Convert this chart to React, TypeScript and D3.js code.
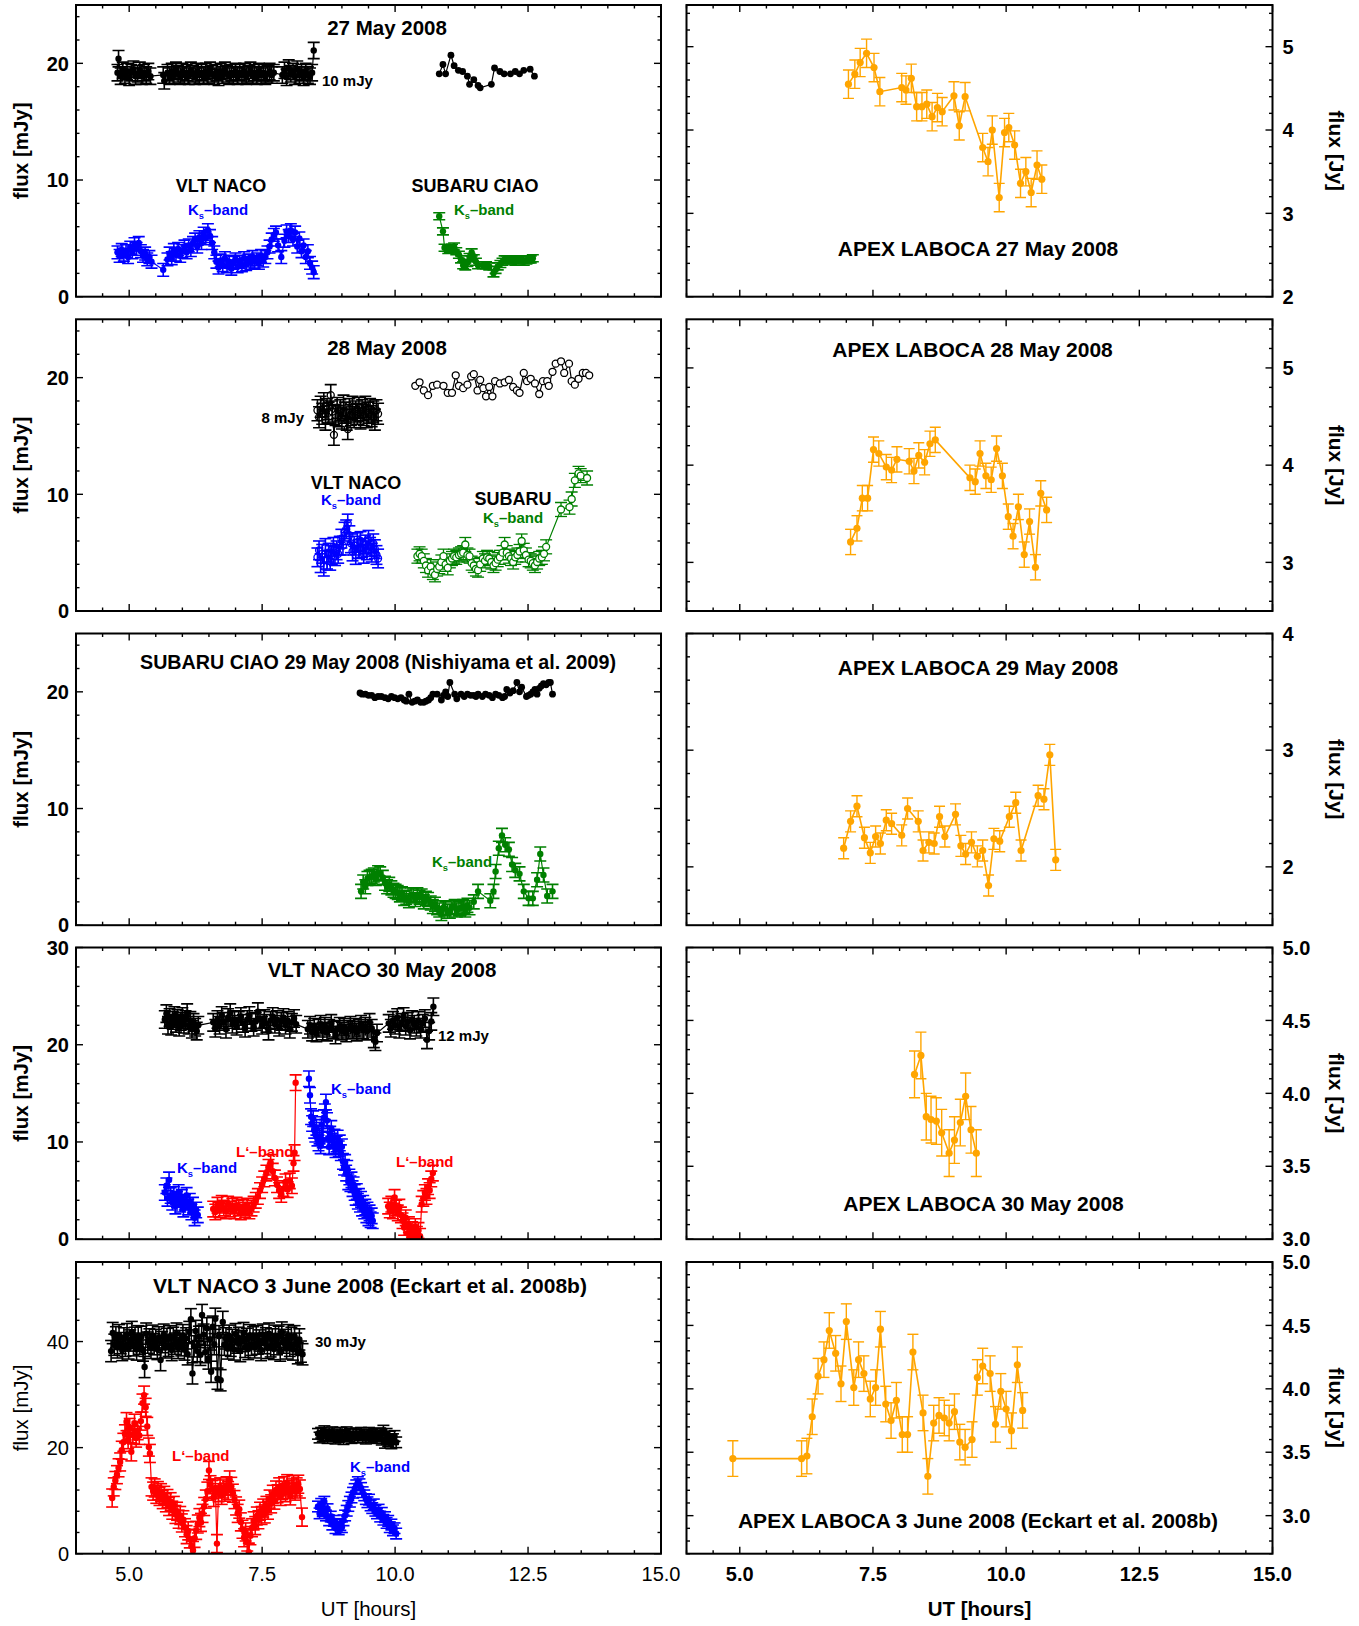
import React from 'react';
import * as d3 from 'd3';

type Pt = [number, number];

// ---------------- DATA ----------------
// 27 May 2008
const naco27Ks: Pt[] = [[4.78,3.8],[4.82,3.5],[4.86,4.0],[4.90,3.6],[4.94,3.9],[4.98,3.4],[5.02,4.2],[5.06,3.8],[5.10,4.5],[5.14,4.1],[5.18,4.6],[5.22,3.9],[5.26,3.5],[5.30,3.7],[5.34,3.2],[5.38,3.4],[5.42,3.0],[5.64,2.3],[5.72,3.2],[5.76,3.7],[5.80,3.3],[5.84,4.0],[5.88,3.6],[5.92,4.1],[5.96,3.5],[6.00,3.9],[6.04,4.3],[6.08,3.8],[6.12,4.4],[6.16,4.0],[6.20,4.6],[6.24,4.9],[6.28,4.3],[6.32,5.1],[6.36,4.6],[6.40,5.4],[6.44,5.0],[6.48,5.7],[6.52,5.2],[6.56,4.6],[6.60,3.8],[6.64,3.0],[6.68,2.5],[6.72,3.1],[6.76,2.7],[6.80,3.3],[6.84,2.6],[6.88,3.0],[6.92,2.4],[6.96,2.9],[7.00,3.2],[7.04,2.6],[7.08,3.0],[7.12,2.7],[7.16,3.3],[7.20,2.8],[7.24,3.1],[7.28,2.9],[7.32,3.4],[7.36,3.0],[7.40,3.2],[7.44,2.9],[7.48,3.5],[7.52,3.1],[7.56,3.4],[7.60,3.8],[7.64,4.3],[7.68,4.9],[7.72,5.3],[7.76,5.5],[7.80,4.4],[7.86,3.4],[7.92,4.8],[7.96,5.6],[8.00,5.2],[8.04,5.7],[8.08,4.9],[8.12,5.5],[8.16,4.3],[8.20,5.0],[8.24,3.9],[8.28,4.4],[8.32,3.4],[8.36,3.9],[8.40,2.9],[8.44,2.5],[8.47,2.1]];
const naco27Ref: Pt[] = [[4.78,19.2],[4.80,20.4],[4.84,18.9],[4.88,19.4],[4.92,19.0],[4.96,19.3],[5.00,18.8],[5.04,19.2],[5.08,19.5],[5.12,18.9],[5.16,19.1],[5.20,19.4],[5.24,18.9],[5.28,19.2],[5.32,19.0],[5.36,19.3],[5.40,18.9],[5.64,19.0],[5.66,18.5],[5.72,19.2],[5.76,18.9],[5.80,19.3],[5.84,19.0],[5.88,19.4],[5.92,19.1],[5.96,18.9],[6.00,19.3],[6.04,19.0],[6.08,19.2],[6.12,18.9],[6.16,19.4],[6.20,19.1],[6.24,18.9],[6.28,19.3],[6.32,19.0],[6.36,19.2],[6.40,18.9],[6.44,19.3],[6.48,19.0],[6.52,19.4],[6.56,19.1],[6.60,18.9],[6.64,19.2],[6.68,18.8],[6.72,19.3],[6.76,19.0],[6.80,19.4],[6.84,19.1],[6.88,18.9],[6.92,19.2],[6.96,19.0],[7.00,19.3],[7.04,18.9],[7.08,19.2],[7.12,19.0],[7.16,19.3],[7.20,18.9],[7.24,19.1],[7.28,19.4],[7.32,19.0],[7.36,19.2],[7.40,18.9],[7.44,19.3],[7.48,19.0],[7.52,19.2],[7.56,18.9],[7.60,19.1],[7.64,19.3],[7.68,19.0],[7.72,19.2],[7.88,19.0],[7.92,19.4],[7.96,18.8],[8.00,19.6],[8.04,19.1],[8.08,19.3],[8.12,18.9],[8.16,19.5],[8.20,19.0],[8.24,19.2],[8.28,18.8],[8.32,19.3],[8.36,19.0],[8.40,18.9],[8.44,19.2],[8.47,21.1]];
const subaru27Ks: Pt[] = [[10.83,6.9],[10.90,5.6],[10.93,4.2],[11.00,4.0],[11.03,4.1],[11.07,4.2],[11.11,4.3],[11.15,3.9],[11.20,3.6],[11.24,3.2],[11.28,2.7],[11.32,2.6],[11.36,2.9],[11.40,3.4],[11.44,3.8],[11.48,3.3],[11.52,3.0],[11.56,2.7],[11.65,2.7],[11.71,2.7],[11.77,2.6],[11.85,2.0],[11.89,2.3],[11.93,2.6],[11.98,2.8],[12.02,3.0],[12.06,3.2],[12.10,3.2],[12.14,3.1],[12.18,3.1],[12.22,3.2],[12.26,3.0],[12.30,3.1],[12.34,3.2],[12.38,3.2],[12.42,3.0],[12.47,3.1],[12.51,3.2],[12.55,3.2],[12.59,3.3]];
const subaru27Ref: Pt[] = [[10.83,19.1],[10.90,19.9],[10.95,19.1],[11.05,20.7],[11.11,19.8],[11.19,19.4],[11.27,19.3],[11.36,18.9],[11.40,18.2],[11.48,18.6],[11.56,18.1],[11.60,17.9],[11.81,18.2],[11.87,19.6],[11.97,19.3],[12.05,19.1],[12.17,19.1],[12.26,19.3],[12.34,19.1],[12.42,19.4],[12.54,19.5],[12.62,18.9]];
const apex27: Pt[] = [[7.04,4.55],[7.16,4.67],[7.26,4.81],[7.38,4.92],[7.52,4.75],[7.63,4.46],[8.04,4.51],[8.12,4.48],[8.22,4.62],[8.32,4.28],[8.42,4.28],[8.51,4.31],[8.61,4.16],[8.71,4.27],[8.80,4.22],[9.02,4.41],[9.12,4.05],[9.23,4.40],[9.56,3.79],[9.66,3.62],[9.74,4.00],[9.87,3.19],[9.97,3.97],[10.05,4.03],[10.16,3.82],[10.27,3.36],[10.37,3.50],[10.47,3.25],[10.58,3.58],[10.67,3.41]];

// 28 May 2008
const naco28Ks: Pt[] = [[8.54,4.6],[8.57,5.2],[8.60,4.1],[8.63,4.9],[8.66,3.8],[8.69,5.4],[8.72,4.4],[8.75,5.0],[8.78,4.3],[8.81,4.8],[8.84,5.5],[8.87,4.7],[8.90,5.2],[8.93,4.9],[8.96,5.6],[8.99,6.2],[9.02,5.6],[9.05,6.8],[9.08,7.0],[9.11,7.5],[9.14,6.5],[9.17,5.8],[9.20,5.1],[9.23,5.6],[9.26,4.8],[9.29,5.9],[9.32,5.3],[9.35,6.0],[9.38,5.4],[9.41,4.9],[9.44,5.7],[9.47,5.2],[9.50,6.1],[9.53,5.5],[9.56,5.0],[9.59,5.8],[9.62,5.3],[9.65,4.8],[9.68,4.5]];
const naco28Ref: Pt[] = [[8.54,17.2],[8.57,16.6],[8.60,17.5],[8.63,16.9],[8.66,17.8],[8.69,16.4],[8.72,17.3],[8.75,17.0],[8.79,18.5],[8.82,17.1],[8.85,15.1],[8.88,16.8],[8.91,17.4],[8.94,16.7],[8.97,17.2],[9.00,16.5],[9.03,17.6],[9.06,17.0],[9.09,16.4],[9.11,15.6],[9.14,17.3],[9.17,16.8],[9.20,17.5],[9.23,16.6],[9.26,17.1],[9.29,16.9],[9.32,17.4],[9.35,16.5],[9.38,17.2],[9.41,16.8],[9.44,17.5],[9.47,16.6],[9.50,17.0],[9.53,17.3],[9.56,16.7],[9.59,17.1],[9.62,16.4],[9.65,17.2],[9.68,16.9]];
const subaru28Ks: Pt[] = [[10.42,4.7],[10.46,4.9],[10.50,4.7],[10.54,4.3],[10.58,3.9],[10.62,3.5],[10.67,3.8],[10.71,3.3],[10.75,3.1],[10.79,3.6],[10.83,3.8],[10.87,4.2],[10.91,4.7],[10.95,4.0],[10.99,3.7],[11.03,4.3],[11.07,4.5],[11.11,4.7],[11.15,4.6],[11.20,4.8],[11.24,4.9],[11.28,5.0],[11.32,5.7],[11.36,4.8],[11.40,4.7],[11.44,4.1],[11.48,3.9],[11.52,3.6],[11.56,3.5],[11.60,4.0],[11.65,4.5],[11.69,4.3],[11.73,4.6],[11.77,4.5],[11.81,4.2],[11.85,3.9],[11.89,4.1],[11.93,4.4],[11.97,4.6],[12.02,5.0],[12.06,5.7],[12.10,5.0],[12.14,4.7],[12.18,4.5],[12.22,4.2],[12.26,4.6],[12.30,4.8],[12.34,5.1],[12.38,6.0],[12.42,5.2],[12.46,4.8],[12.51,4.4],[12.55,4.3],[12.59,4.1],[12.63,3.9],[12.67,4.2],[12.71,4.5],[12.76,4.6],[12.80,4.9],[12.84,5.5],[13.12,8.7],[13.28,8.9],[13.32,9.6],[13.38,11.2],[13.45,11.8],[13.49,11.6],[13.61,11.4]];
const subaru28Ref: Pt[] = [[10.38,19.3],[10.46,19.6],[10.54,18.9],[10.62,18.5],[10.71,19.3],[10.79,19.4],[10.91,19.3],[10.99,18.7],[11.07,18.7],[11.14,20.2],[11.20,19.3],[11.28,19.1],[11.36,19.4],[11.43,20.1],[11.48,20.3],[11.55,18.9],[11.60,19.8],[11.66,19.1],[11.71,18.4],[11.77,19.2],[11.83,18.4],[11.88,19.7],[11.97,19.5],[12.06,19.6],[12.14,19.8],[12.22,19.2],[12.29,18.9],[12.34,18.7],[12.42,20.4],[12.48,19.7],[12.55,19.9],[12.63,19.5],[12.71,18.6],[12.78,19.7],[12.86,19.7],[12.89,19.3],[12.96,20.5],[13.02,21.2],[13.12,21.4],[13.18,20.4],[13.27,21.2],[13.32,19.7],[13.38,19.4],[13.45,19.9],[13.53,20.4],[13.59,20.4],[13.65,20.2]];
const apex28: Pt[] = [[7.08,3.21],[7.20,3.35],[7.30,3.66],[7.40,3.66],[7.51,4.16],[7.61,4.12],[7.75,3.98],[7.85,3.95],[7.95,4.06],[8.18,4.04],[8.27,3.94],[8.36,4.10],[8.47,4.03],[8.57,4.22],[8.67,4.26],[9.32,3.87],[9.42,3.83],[9.51,4.12],[9.62,3.89],[9.72,3.85],[9.82,4.17],[9.93,3.89],[10.04,3.47],[10.13,3.27],[10.23,3.57],[10.34,3.08],[10.44,3.42],[10.55,2.95],[10.65,3.71],[10.76,3.54]];

// 29 May 2008
const subaru29Ref: Pt[] = [[9.34,19.9],[9.38,19.8],[9.44,19.8],[9.50,19.7],[9.56,19.7],[9.62,19.5],[9.68,19.6],[9.74,19.6],[9.81,19.5],[9.87,19.4],[9.93,19.6],[9.99,19.5],[10.05,19.4],[10.11,19.5],[10.17,19.3],[10.21,19.2],[10.26,19.8],[10.32,19.1],[10.37,19.2],[10.42,19.3],[10.48,19.1],[10.54,19.1],[10.58,19.2],[10.63,19.3],[10.67,19.5],[10.71,19.8],[10.79,19.8],[10.87,19.3],[10.91,19.7],[10.95,20.0],[10.99,19.6],[11.03,20.8],[11.12,19.8],[11.16,19.4],[11.24,19.8],[11.30,19.6],[11.36,19.8],[11.42,19.7],[11.48,19.7],[11.52,19.6],[11.56,19.8],[11.64,19.6],[11.70,19.8],[11.77,19.7],[11.83,19.5],[11.89,19.8],[11.95,19.7],[12.02,19.5],[12.06,19.6],[12.10,20.2],[12.16,19.9],[12.22,20.1],[12.29,20.8],[12.34,20.0],[12.38,20.4],[12.47,19.6],[12.51,19.7],[12.55,19.8],[12.59,20.0],[12.63,20.2],[12.67,19.8],[12.71,20.3],[12.75,20.5],[12.79,20.7],[12.84,20.6],[12.89,20.8],[12.92,20.8],[12.96,19.8]];
const subaru29Ks: Pt[] = [[9.36,2.9],[9.40,3.7],[9.44,3.3],[9.48,4.0],[9.52,4.1],[9.56,4.2],[9.60,4.3],[9.64,4.0],[9.68,4.5],[9.72,4.4],[9.77,4.1],[9.81,3.6],[9.85,3.3],[9.89,3.5],[9.93,3.2],[9.97,3.0],[10.01,2.9],[10.05,2.8],[10.09,2.6],[10.13,2.7],[10.17,2.3],[10.21,2.4],[10.26,2.1],[10.30,2.6],[10.34,2.5],[10.38,2.2],[10.42,2.6],[10.46,2.4],[10.50,2.5],[10.54,2.0],[10.58,2.3],[10.62,2.2],[10.67,1.9],[10.71,1.6],[10.75,1.8],[10.79,1.5],[10.83,1.3],[10.87,1.0],[10.91,1.5],[10.95,1.4],[10.99,1.2],[11.03,1.2],[11.07,1.5],[11.12,1.6],[11.16,1.3],[11.20,1.4],[11.24,1.5],[11.28,1.6],[11.32,1.3],[11.36,1.7],[11.40,1.5],[11.48,2.0],[11.56,2.9],[11.79,2.1],[11.85,2.9],[11.89,4.6],[11.95,6.6],[12.01,7.7],[12.07,6.9],[12.14,6.5],[12.20,5.2],[12.26,4.7],[12.34,4.4],[12.42,2.9],[12.51,2.3],[12.59,2.3],[12.67,3.9],[12.73,6.1],[12.79,4.3],[12.86,2.5],[12.96,2.9]];
const apex29: Pt[] = [[6.95,2.16],[7.08,2.39],[7.20,2.52],[7.34,2.25],[7.45,2.12],[7.55,2.26],[7.64,2.20],[7.75,2.40],[7.85,2.37],[8.04,2.27],[8.15,2.50],[8.35,2.39],[8.44,2.14],[8.55,2.21],[8.65,2.20],[8.75,2.43],[8.85,2.26],[9.05,2.45],[9.15,2.18],[9.24,2.11],[9.35,2.21],[9.46,2.09],[9.56,2.14],[9.67,1.84],[9.77,2.24],[9.88,2.22],[10.06,2.43],[10.18,2.55],[10.28,2.14],[10.60,2.61],[10.71,2.58],[10.82,2.96],[10.93,2.06]];

// 30 May 2008
const naco30Ks1: Pt[] = [[5.67,4.8],[5.70,5.5],[5.72,4.2],[5.75,6.1],[5.78,4.5],[5.81,3.8],[5.84,4.6],[5.87,3.4],[5.90,4.1],[5.93,4.8],[5.96,3.6],[5.99,4.3],[6.02,3.1],[6.05,3.8],[6.08,4.5],[6.11,3.3],[6.14,3.9],[6.17,2.8],[6.20,3.5],[6.23,2.2],[6.26,3.0],[6.29,2.5]];
const naco30L1: Pt[] = [[6.58,3.1],[6.62,2.8],[6.66,3.5],[6.70,3.0],[6.74,3.7],[6.78,3.2],[6.82,2.9],[6.86,3.6],[6.90,3.1],[6.94,3.4],[6.98,2.9],[7.02,3.5],[7.06,3.2],[7.10,2.8],[7.14,3.3],[7.18,3.0],[7.22,3.4],[7.26,2.9],[7.30,3.2],[7.34,3.6],[7.38,4.0],[7.42,4.4],[7.46,5.0],[7.50,5.6],[7.54,6.2],[7.58,6.8],[7.62,7.4],[7.66,7.9],[7.70,7.0],[7.74,6.3],[7.78,5.6],[7.82,5.0],[7.86,4.6],[7.90,5.2],[7.94,5.9],[7.98,5.1],[8.02,6.0],[8.06,5.5],[8.09,7.8],[8.11,8.9],[8.13,16.1]];
const naco30Ks2: Pt[] = [[8.38,16.5],[8.40,14.8],[8.42,12.6],[8.44,11.9],[8.46,12.4],[8.48,11.2],[8.50,10.8],[8.52,11.5],[8.54,10.4],[8.56,9.9],[8.58,10.6],[8.60,9.6],[8.62,11.8],[8.64,10.2],[8.66,12.5],[8.68,13.1],[8.70,14.1],[8.72,12.2],[8.74,10.3],[8.76,9.5],[8.78,10.8],[8.80,11.4],[8.82,10.1],[8.84,9.6],[8.86,10.5],[8.88,9.2],[8.90,9.8],[8.92,10.4],[8.94,9.3],[8.96,9.9],[8.98,8.9],[9.00,9.5],[9.02,8.0],[9.04,7.4],[9.06,7.9],[9.08,6.8],[9.10,7.3],[9.12,5.9],[9.14,6.4],[9.16,5.7],[9.18,6.1],[9.20,5.2],[9.22,5.6],[9.24,4.8],[9.26,4.3],[9.28,4.9],[9.30,3.9],[9.32,4.4],[9.34,3.6],[9.36,4.1],[9.38,3.2],[9.40,3.7],[9.42,2.9],[9.44,3.3],[9.46,2.5],[9.48,3.0],[9.50,2.2],[9.52,2.7],[9.54,2.0],[9.56,2.4],[9.58,1.9]];
const naco30L2: Pt[] = [[9.87,3.4],[9.90,3.0],[9.93,3.6],[9.96,2.9],[9.99,4.3],[10.02,3.2],[10.05,2.7],[10.08,3.3],[10.11,2.5],[10.14,1.9],[10.17,1.2],[10.20,2.2],[10.23,0.6],[10.26,1.5],[10.29,0.3],[10.32,1.0],[10.35,0.2],[10.38,1.3],[10.41,0.5],[10.44,0.9],[10.47,0.3],[10.50,3.6],[10.53,4.2],[10.56,4.8],[10.59,4.4],[10.62,5.4],[10.65,5.0],[10.68,6.2],[10.71,6.8]];
const naco30Ref: Pt[] = [[5.67,22.6],[5.70,23.2],[5.73,22.0],[5.76,22.8],[5.79,21.9],[5.82,22.5],[5.85,23.0],[5.88,22.2],[5.91,22.7],[5.94,21.8],[5.97,22.4],[6.00,22.9],[6.03,22.1],[6.06,22.6],[6.09,23.3],[6.12,22.0],[6.15,22.5],[6.18,21.6],[6.21,22.3],[6.24,21.8],[6.27,21.4],[6.30,22.0],[6.58,22.3],[6.62,21.7],[6.66,22.6],[6.70,22.0],[6.74,23.0],[6.78,22.4],[6.82,21.6],[6.86,22.8],[6.90,23.3],[6.94,22.1],[6.98,22.6],[7.02,21.9],[7.06,22.5],[7.10,22.9],[7.14,22.2],[7.18,21.7],[7.22,22.6],[7.26,23.0],[7.30,22.3],[7.34,21.8],[7.38,22.4],[7.42,23.4],[7.46,22.6],[7.50,22.0],[7.54,22.7],[7.58,22.2],[7.62,21.4],[7.66,22.5],[7.70,22.9],[7.74,22.1],[7.78,22.6],[7.82,21.8],[7.86,22.4],[7.90,22.8],[7.94,22.0],[7.98,22.5],[8.02,21.6],[8.06,22.3],[8.10,22.7],[8.14,22.1],[8.36,21.6],[8.40,22.0],[8.44,21.3],[8.48,21.8],[8.52,21.2],[8.56,21.7],[8.60,22.1],[8.64,21.4],[8.68,21.9],[8.72,21.3],[8.76,21.7],[8.80,22.2],[8.84,21.5],[8.88,21.0],[8.92,21.6],[8.96,21.9],[9.00,21.4],[9.04,21.8],[9.08,21.2],[9.12,21.6],[9.16,22.0],[9.20,21.5],[9.24,21.8],[9.28,21.3],[9.32,21.7],[9.36,22.1],[9.40,21.5],[9.44,21.9],[9.48,21.4],[9.52,22.3],[9.56,21.7],[9.60,20.6],[9.63,20.3],[9.66,21.2],[9.88,22.2],[9.92,21.7],[9.96,22.5],[10.00,22.0],[10.04,22.8],[10.08,21.6],[10.12,22.3],[10.16,22.9],[10.20,21.9],[10.24,22.4],[10.28,21.5],[10.32,22.6],[10.36,22.1],[10.40,21.8],[10.44,22.5],[10.48,21.6],[10.52,22.2],[10.56,22.7],[10.60,20.5],[10.64,21.4],[10.68,22.4],[10.72,23.9]];
const apex30: Pt[] = [[8.28,4.13],[8.40,4.26],[8.50,3.84],[8.59,3.82],[8.69,3.81],[8.79,3.73],[8.93,3.59],[9.03,3.68],[9.14,3.80],[9.24,3.98],[9.34,3.75],[9.44,3.59]];

// 3 June 2008
const naco03L: Pt[] = [[4.68,10.5],[4.71,12.6],[4.74,13.8],[4.77,14.9],[4.80,16.2],[4.83,17.3],[4.86,19.5],[4.89,21.0],[4.92,22.6],[4.95,24.9],[4.98,21.5],[5.01,23.8],[5.04,19.2],[5.07,22.4],[5.10,24.6],[5.13,21.8],[5.16,23.2],[5.19,22.3],[5.22,25.0],[5.25,28.4],[5.28,29.9],[5.31,27.6],[5.34,24.0],[5.37,20.1],[5.39,18.9],[5.42,12.6],[5.45,11.8],[5.48,12.4],[5.51,11.2],[5.54,11.9],[5.57,10.8],[5.60,11.5],[5.63,10.2],[5.66,11.0],[5.69,9.6],[5.72,10.4],[5.75,8.9],[5.78,9.8],[5.81,8.2],[5.84,9.1],[5.87,7.4],[5.90,8.0],[5.93,6.5],[5.96,7.2],[5.99,5.8],[6.02,6.4],[6.05,4.9],[6.08,3.6],[6.11,4.3],[6.14,2.8],[6.17,1.4],[6.20,0.6],[6.23,2.9],[6.26,4.4],[6.29,5.6],[6.32,6.8],[6.35,5.9],[6.38,7.6],[6.41,8.9],[6.44,10.3],[6.47,11.8],[6.50,15.7],[6.53,13.0],[6.56,12.1],[6.59,10.6],[6.62,12.4],[6.65,1.9],[6.68,11.5],[6.71,12.6],[6.74,11.0],[6.77,12.2],[6.80,11.6],[6.83,12.8],[6.86,11.9],[6.89,13.9],[6.92,12.7],[6.95,11.4],[6.98,10.2],[7.01,9.0],[7.04,7.6],[7.07,8.4],[7.10,6.0],[7.13,4.6],[7.16,3.0],[7.19,4.1],[7.22,2.2],[7.25,0.3],[7.28,3.4],[7.31,4.9],[7.34,6.2],[7.37,5.3],[7.40,7.1],[7.43,6.4],[7.46,8.0],[7.49,7.2],[7.52,8.6],[7.55,7.5],[7.58,9.1],[7.61,8.2],[7.64,10.3],[7.67,9.4],[7.70,11.2],[7.73,10.1],[7.76,12.0],[7.79,11.3],[7.82,12.6],[7.85,10.8],[7.88,11.9],[7.91,12.8],[7.94,11.5],[7.97,13.2],[8.00,12.1],[8.03,10.9],[8.06,12.4],[8.09,13.0],[8.12,11.8],[8.15,12.6],[8.18,13.1],[8.21,12.2],[8.25,6.9]];
const naco03Ks: Pt[] = [[8.55,8.9],[8.58,7.6],[8.61,9.4],[8.64,8.0],[8.67,9.8],[8.70,7.2],[8.73,8.4],[8.76,6.3],[8.79,7.0],[8.82,5.5],[8.85,6.2],[8.88,4.8],[8.91,5.6],[8.94,4.6],[8.97,5.4],[9.00,5.0],[9.03,6.3],[9.06,7.2],[9.09,8.1],[9.12,9.0],[9.15,9.8],[9.18,10.6],[9.21,11.5],[9.24,12.2],[9.27,12.9],[9.30,13.5],[9.33,13.1],[9.36,12.4],[9.39,11.6],[9.42,11.0],[9.45,10.3],[9.48,9.7],[9.51,10.2],[9.54,9.1],[9.57,8.6],[9.60,9.3],[9.63,8.1],[9.66,7.6],[9.69,8.3],[9.72,7.0],[9.75,7.7],[9.78,6.4],[9.81,6.9],[9.84,5.8],[9.87,6.2],[9.90,5.0],[9.93,5.5],[9.96,4.4],[9.99,4.8],[10.02,3.8]];
const naco03RefL: Pt[] = [[4.66,38.2],[4.69,41.6],[4.72,39.4],[4.75,40.8],[4.78,38.9],[4.81,41.2],[4.84,39.7],[4.87,38.4],[4.90,40.6],[4.93,39.2],[4.96,41.4],[4.99,38.7],[5.02,40.2],[5.05,41.8],[5.08,39.3],[5.11,40.7],[5.14,38.5],[5.17,41.0],[5.20,39.6],[5.23,40.9],[5.26,38.3],[5.29,35.2],[5.32,41.5],[5.35,39.8],[5.38,40.4],[5.41,38.8],[5.44,41.1],[5.47,39.5],[5.50,40.3],[5.53,38.6],[5.56,40.8],[5.59,36.5],[5.62,39.9],[5.65,41.3],[5.68,38.9],[5.71,40.5],[5.74,39.2],[5.77,41.0],[5.80,38.4],[5.83,40.7],[5.86,39.6],[5.89,41.5],[5.92,38.8],[5.95,40.1],[5.98,39.3],[6.01,41.2],[6.04,38.5],[6.07,40.6],[6.10,37.6],[6.13,41.8],[6.16,44.2],[6.19,34.0],[6.22,39.1],[6.25,42.0],[6.28,38.2],[6.31,40.9],[6.34,37.5],[6.37,45.0],[6.40,41.3],[6.43,38.0],[6.46,42.5],[6.49,36.8],[6.52,40.4],[6.54,34.3],[6.57,42.8],[6.60,39.5],[6.62,44.3],[6.66,33.0],[6.69,41.0],[6.72,32.7],[6.76,43.7],[6.79,39.4],[6.82,40.6],[6.85,38.7],[6.88,41.1],[6.91,39.2],[6.94,40.3],[6.97,38.5],[7.00,41.4],[7.03,39.8],[7.06,40.7],[7.09,38.2],[7.12,40.1],[7.15,41.6],[7.18,39.0],[7.21,40.5],[7.24,38.6],[7.27,41.2],[7.30,39.4],[7.33,40.8],[7.36,38.9],[7.39,41.0],[7.42,39.6],[7.45,40.2],[7.48,38.4],[7.51,41.3],[7.54,39.7],[7.57,40.6],[7.60,38.8],[7.63,41.5],[7.66,39.1],[7.69,40.4],[7.72,38.6],[7.75,41.1],[7.78,39.5],[7.81,40.9],[7.84,38.3],[7.87,41.7],[7.90,39.8],[7.93,40.3],[7.96,38.7],[7.99,41.2],[8.02,39.2],[8.05,40.7],[8.08,38.5],[8.11,41.0],[8.14,39.6],[8.17,37.8],[8.20,40.4],[8.23,38.1],[8.26,37.6]];
const naco03RefK: Pt[] = [[8.55,22.6],[8.58,21.9],[8.61,22.8],[8.64,22.2],[8.67,23.1],[8.70,22.4],[8.73,21.8],[8.76,22.7],[8.79,22.1],[8.82,22.9],[8.85,22.3],[8.88,21.7],[8.91,22.5],[8.94,22.0],[8.97,22.8],[9.00,22.2],[9.03,21.6],[9.06,22.4],[9.09,22.9],[9.12,22.1],[9.15,22.6],[9.18,21.8],[9.21,22.5],[9.24,22.0],[9.27,22.7],[9.30,21.9],[9.33,22.4],[9.36,22.8],[9.39,22.0],[9.42,22.5],[9.45,21.7],[9.48,22.3],[9.51,22.8],[9.54,21.9],[9.57,22.4],[9.60,22.1],[9.63,22.6],[9.66,21.8],[9.69,22.3],[9.72,22.7],[9.75,21.5],[9.78,23.2],[9.81,20.9],[9.84,22.6],[9.87,21.2],[9.90,22.1],[9.93,20.8],[9.96,21.6],[9.99,22.2],[10.02,21.0]];
const apex03: Pt[] = [[4.87,3.45],[6.16,3.45],[6.26,3.47],[6.36,3.78],[6.47,4.10],[6.58,4.23],[6.68,4.46],[6.80,4.28],[6.90,4.04],[7.00,4.53],[7.14,4.01],[7.23,4.23],[7.33,4.12],[7.45,3.92],[7.55,4.01],[7.64,4.47],[7.74,3.88],[7.84,3.75],[7.94,3.91],[8.05,3.64],[8.15,3.64],[8.25,4.29],[8.44,3.81],[8.53,3.31],[8.64,3.73],[8.74,3.79],[8.84,3.77],[8.93,3.73],[9.03,3.82],[9.13,3.58],[9.23,3.54],[9.36,3.60],[9.46,4.09],[9.56,4.18],[9.70,4.12],[9.80,3.72],[9.90,3.98],[10.00,3.84],[10.10,3.67],[10.21,4.19],[10.31,3.83]];

// axes
const X_DOMAIN: [number, number] = [4, 15];
const X_MAJOR = [5, 7.5, 10, 12.5, 15];
const LEFT_Y_DOMAINS: [number, number][] = [[0, 25], [0, 25], [0, 25], [0, 30], [0, 55]];
const LEFT_Y_MAJOR = [[0, 10, 20], [0, 10, 20], [0, 10, 20], [0, 10, 20, 30], [0, 20, 40]];
const LEFT_Y_MINOR = [2, 2, 2, 2, 4];
const RIGHT_Y_DOMAINS: [number, number][] = [[2, 5.5], [2.5, 5.5], [1.5, 4], [3, 5], [2.7, 5]];
const RIGHT_Y_MAJOR = [[2, 3, 4, 5], [3, 4, 5], [2, 3, 4], [3, 3.5, 4, 4.5, 5], [3, 3.5, 4, 4.5, 5]];
const RIGHT_Y_MINOR = [0.2, 0.2, 0.2, 0.1, 0.1];

// ---------------- LAYOUT / STYLE ----------------
const FONT = '"Liberation Sans", Arial, Helvetica, sans-serif';
const BLUE = '#0000ff', RED = '#ff0000', GREEN = '#008000', BLACK = '#000000', ORANGE = '#ffa500';
const LEFT_X: [number, number] = [76, 661];
const RIGHT_X: [number, number] = [686.5, 1272.5];
const ROW_TOPS = [5, 319.3, 633.5, 947.5, 1262];
const ROW_H = 291.7;

type Marker = 'dot' | 'open' | 'openWhite';
interface Series { data: Pt[]; err: number; color: string; marker: Marker; r: number; gap: number; cap: number; lw: number; ew: number; errOn?: boolean }
interface Label { text: string; x: number; y: number; anchor: 'start' | 'middle' | 'end'; size: number; color: string; sub?: boolean; weight?: string }

const S = (data: Pt[], err: number, color: string, marker: Marker = 'dot', extra: Partial<Series> = {}): Series => ({
  data, err, color, marker, r: 3.2, gap: 0.35, cap: 6, lw: 1.2, ew: 1.6, errOn: err > 0, ...extra,
});
const OR = (data: Pt[], err: number): Series => S(data, err, ORANGE, 'dot', { r: 3.6, cap: 5.5, lw: 1.6, ew: 1.4, gap: 5 });

const KS = (x: number, y: number, color: string, anchor: 'start' | 'middle' = 'middle'): Label => ({ text: 'K|s|–band', x, y, anchor, size: 15, color, sub: true });

const leftSeries: Series[][] = [
  [S(naco27Ref, 0.7, BLACK), S(naco27Ks, 0.55, BLUE), S(subaru27Ks, 0.3, GREEN, 'dot', { gap: 5 }), S(subaru27Ref, 0, BLACK, 'dot', { gap: 5, r: 3.4 })],
  [S(naco28Ref, 0.9, BLACK, 'open', { r: 3.5 }), S(naco28Ks, 0.8, BLUE, 'open', { r: 3.5 }), S(subaru28Ks, 0.6, GREEN, 'openWhite', { gap: 5, r: 3.5, ew: 1.3 }), S(subaru28Ref, 0, BLACK, 'openWhite', { gap: 5, r: 3.5 })],
  [S(subaru29Ref, 0, BLACK, 'dot', { gap: 5, r: 3.4 }), S(subaru29Ks, 0.6, GREEN, 'dot', { gap: 5 })],
  [S(naco30Ref, 0.9, BLACK), S(naco30Ks1, 0.8, BLUE), S(naco30L1, 0.8, RED), S(naco30Ks2, 0.8, BLUE), S(naco30L2, 0.8, RED)],
  [S(naco03RefL, 2.0, BLACK), S(naco03RefK, 1.0, BLACK), S(naco03L, 1.7, RED), S(naco03Ks, 1.0, BLUE)],
];
const rightSeries: Series[][] = [[OR(apex27, 0.17)], [OR(apex28, 0.13)], [OR(apex29, 0.09)], [OR(apex30, 0.16)], [OR(apex03, 0.14)]];

const leftLabels: Label[][] = [
  [
    { text: '27 May 2008', x: 311, y: 30, anchor: 'middle', size: 20.5, color: BLACK },
    { text: '10 mJy', x: 246, y: 81, anchor: 'start', size: 15, color: BLACK },
    { text: 'VLT NACO', x: 145, y: 187, anchor: 'middle', size: 18, color: BLACK },
    KS(142, 210, BLUE),
    { text: 'SUBARU CIAO', x: 399, y: 187, anchor: 'middle', size: 18, color: BLACK },
    KS(408, 210, GREEN),
  ],
  [
    { text: '28 May 2008', x: 311, y: 36, anchor: 'middle', size: 20.5, color: BLACK },
    { text: '8 mJy', x: 228, y: 104, anchor: 'end', size: 15, color: BLACK },
    { text: 'VLT NACO', x: 280, y: 170, anchor: 'middle', size: 18, color: BLACK },
    KS(275, 186, BLUE),
    { text: 'SUBARU', x: 437, y: 186, anchor: 'middle', size: 18, color: BLACK },
    KS(437, 204, GREEN),
  ],
  [
    { text: 'SUBARU CIAO 29 May 2008 (Nishiyama et al. 2009)', x: 302, y: 35.5, anchor: 'middle', size: 19.7, color: BLACK },
    KS(356, 233, GREEN, 'start'),
  ],
  [
    { text: 'VLT NACO 30 May 2008', x: 306, y: 29, anchor: 'middle', size: 20.5, color: BLACK },
    { text: '12 mJy', x: 362, y: 93, anchor: 'start', size: 15, color: BLACK },
    KS(101, 225, BLUE, 'start'),
    { text: 'L‘–band', x: 160, y: 209, anchor: 'start', size: 15, color: RED },
    KS(255, 146.5, BLUE, 'start'),
    { text: 'L‘–band', x: 320, y: 219, anchor: 'start', size: 15, color: RED },
  ],
  [
    { text: 'VLT NACO 3 June 2008 (Eckart et al. 2008b)', x: 294, y: 31, anchor: 'middle', size: 21, color: BLACK },
    { text: '30 mJy', x: 239, y: 85, anchor: 'start', size: 15, color: BLACK },
    { text: 'L‘–band', x: 96, y: 199, anchor: 'start', size: 15, color: RED },
    KS(274, 210, BLUE, 'start'),
  ],
];
const rightLabels: Label[][] = [
  [{ text: 'APEX LABOCA 27 May 2008', x: 291.5, y: 251, anchor: 'middle', size: 21, color: BLACK }],
  [{ text: 'APEX LABOCA 28 May 2008', x: 286, y: 38, anchor: 'middle', size: 21, color: BLACK }],
  [{ text: 'APEX LABOCA 29 May 2008', x: 291.5, y: 41.5, anchor: 'middle', size: 21, color: BLACK }],
  [{ text: 'APEX LABOCA 30 May 2008', x: 297, y: 263, anchor: 'middle', size: 21, color: BLACK }],
  [{ text: 'APEX LABOCA 3 June 2008 (Eckart et al. 2008b)', x: 291.5, y: 266, anchor: 'middle', size: 21, color: BLACK }],
];

function stepRange(lo: number, hi: number, step: number): number[] {
  const out: number[] = [];
  const n0 = Math.ceil(lo / step - 1e-6), n1 = Math.floor(hi / step + 1e-6);
  for (let i = n0; i <= n1; i++) out.push(+(i * step).toFixed(4));
  return out;
}

function LabelText({ l, ox, oy }: { l: Label; ox: number; oy: number }) {
  if (l.sub) {
    const [a, b, c] = l.text.split('|');
    return (
      <text x={ox + l.x} y={oy + l.y} textAnchor={l.anchor} fontSize={l.size} fill={l.color} fontWeight="bold" fontFamily={FONT}>
        {a}<tspan fontSize={l.size * 0.62} dy={4}>{b}</tspan><tspan dy={-4}>{c}</tspan>
      </text>
    );
  }
  return (
    <text x={ox + l.x} y={oy + l.y} textAnchor={l.anchor} fontSize={l.size} fill={l.color} fontWeight={l.weight ?? 'bold'} fontFamily={FONT}>
      {l.text}
    </text>
  );
}

function Panel({ row, side }: { row: number; side: 'left' | 'right' }) {
  const xr = side === 'left' ? LEFT_X : RIGHT_X;
  const top = ROW_TOPS[row];
  const bottom = top + ROW_H;
  const yDomain = side === 'left' ? LEFT_Y_DOMAINS[row] : RIGHT_Y_DOMAINS[row];
  const majors = side === 'left' ? LEFT_Y_MAJOR[row] : RIGHT_Y_MAJOR[row];
  const minorStep = side === 'left' ? LEFT_Y_MINOR[row] : RIGHT_Y_MINOR[row];
  const series = side === 'left' ? leftSeries[row] : rightSeries[row];
  const labels = side === 'left' ? leftLabels[row] : rightLabels[row];
  const x = d3.scaleLinear().domain(X_DOMAIN).range(xr);
  const y = d3.scaleLinear().domain(yDomain).range([bottom, top]);
  const isBottom = row === 4;
  const tickWeight = side === 'left' && isBottom ? 'normal' : 'bold';
  const yFmt = side === 'left' ? d3.format('d') : (row >= 3 ? d3.format('.1f') : d3.format('d'));
  const clipId = `clip-${side}-${row}`;
  const line = d3.line<Pt>().x((d) => x(d[0])).y((d) => y(d[1]));

  const xMinor = stepRange(X_DOMAIN[0], X_DOMAIN[1], 0.5);
  const yMinor = stepRange(yDomain[0], yDomain[1], minorStep);
  const MAJ = 7, MIN = 3.5;

  return (
    <g>
      <defs>
        <clipPath id={clipId}><rect x={xr[0]} y={top} width={xr[1] - xr[0]} height={ROW_H} /></clipPath>
      </defs>
      <g clipPath={`url(#${clipId})`}>
        {series.map((s, si) => {
          const segs: Pt[][] = [];
          s.data.forEach((p, i) => {
            if (i === 0 || p[0] - s.data[i - 1][0] > s.gap) segs.push([p]);
            else segs[segs.length - 1].push(p);
          });
          return (
            <g key={si}>
              {s.errOn && s.data.map((p, i) => {
                const cx = x(p[0]), y0 = y(p[1] - s.err), y1 = y(p[1] + s.err);
                return (
                  <g key={'e' + i} stroke={s.color} strokeWidth={s.ew}>
                    <line x1={cx} x2={cx} y1={y0} y2={y1} />
                    <line x1={cx - s.cap} x2={cx + s.cap} y1={y0} y2={y0} />
                    <line x1={cx - s.cap} x2={cx + s.cap} y1={y1} y2={y1} />
                  </g>
                );
              })}
              {segs.map((sg, k) => (
                <path key={'l' + k} d={line(sg) ?? ''} fill="none" stroke={s.color} strokeWidth={s.lw} />
              ))}
              {s.data.map((p, i) => (
                <circle key={'m' + i} cx={x(p[0])} cy={y(p[1])} r={s.r}
                  fill={s.marker === 'dot' ? s.color : s.marker === 'openWhite' ? '#fff' : 'none'}
                  stroke={s.color} strokeWidth={s.marker === 'dot' ? 0 : 1.3} />
              ))}
            </g>
          );
        })}
      </g>
      <g stroke={BLACK} strokeWidth={1.4}>
        {xMinor.map((t) => {
          const isMaj = X_MAJOR.some((m) => Math.abs(m - t) < 1e-6);
          const L = isMaj ? MAJ : MIN;
          const px = x(t);
          return (
            <g key={'xt' + t}>
              <line x1={px} x2={px} y1={bottom} y2={bottom - L} />
              <line x1={px} x2={px} y1={top} y2={top + L} />
            </g>
          );
        })}
        {yMinor.map((t) => {
          const isMaj = majors.some((m) => Math.abs(m - t) < 1e-6);
          const L = isMaj ? MAJ : MIN;
          const py = y(t);
          return (
            <g key={'yt' + t}>
              <line x1={xr[0]} x2={xr[0] + L} y1={py} y2={py} />
              <line x1={xr[1]} x2={xr[1] - L} y1={py} y2={py} />
            </g>
          );
        })}
      </g>
      <rect x={xr[0]} y={top} width={xr[1] - xr[0]} height={ROW_H} fill="none" stroke={BLACK} strokeWidth={2} />
      {majors.map((m) => (
        <text key={'yl' + m} x={side === 'left' ? xr[0] - 7 : xr[1] + 10} y={y(m)} dy="0.36em"
          textAnchor={side === 'left' ? 'end' : 'start'} fontSize={20} fontWeight={tickWeight} fontFamily={FONT}>
          {yFmt(m)}
        </text>
      ))}
      {side === 'left' ? (
        <text transform={`translate(21,${(top + bottom) / 2}) rotate(-90)`} dy="0.35em" textAnchor="middle"
          fontSize={20.5} fontWeight={tickWeight} fontFamily={FONT}>flux [mJy]</text>
      ) : (
        <text transform={`translate(1336,${(top + bottom) / 2}) rotate(90)`} dy="0.35em" textAnchor="middle"
          fontSize={21} fontWeight="bold" fontFamily={FONT}>flux [Jy]</text>
      )}
      {isBottom && X_MAJOR.map((m) => (
        <text key={'xl' + m} x={x(m)} y={bottom + 27} textAnchor="middle" fontSize={20} fontWeight={tickWeight} fontFamily={FONT}>
          {d3.format('.1f')(m)}
        </text>
      ))}
      {isBottom && (
        <text x={(xr[0] + xr[1]) / 2} y={bottom + 62} textAnchor="middle" fontSize={20.5} fontWeight={tickWeight} fontFamily={FONT}>
          UT [hours]
        </text>
      )}
      {labels.map((l, i) => <LabelText key={'lb' + i} l={l} ox={xr[0]} oy={top} />)}
    </g>
  );
}

export default function App() {
  const rows = [0, 1, 2, 3, 4];
  return (
    <svg width={1359} height={1626} style={{ position: 'absolute', left: 0, top: 0, display: 'block', background: '#fff' }}>
      <rect width={1359} height={1626} fill="#fff" />
      {rows.map((r) => (
        <g key={r}>
          <Panel row={r} side="left" />
          <Panel row={r} side="right" />
        </g>
      ))}
    </svg>
  );
}
